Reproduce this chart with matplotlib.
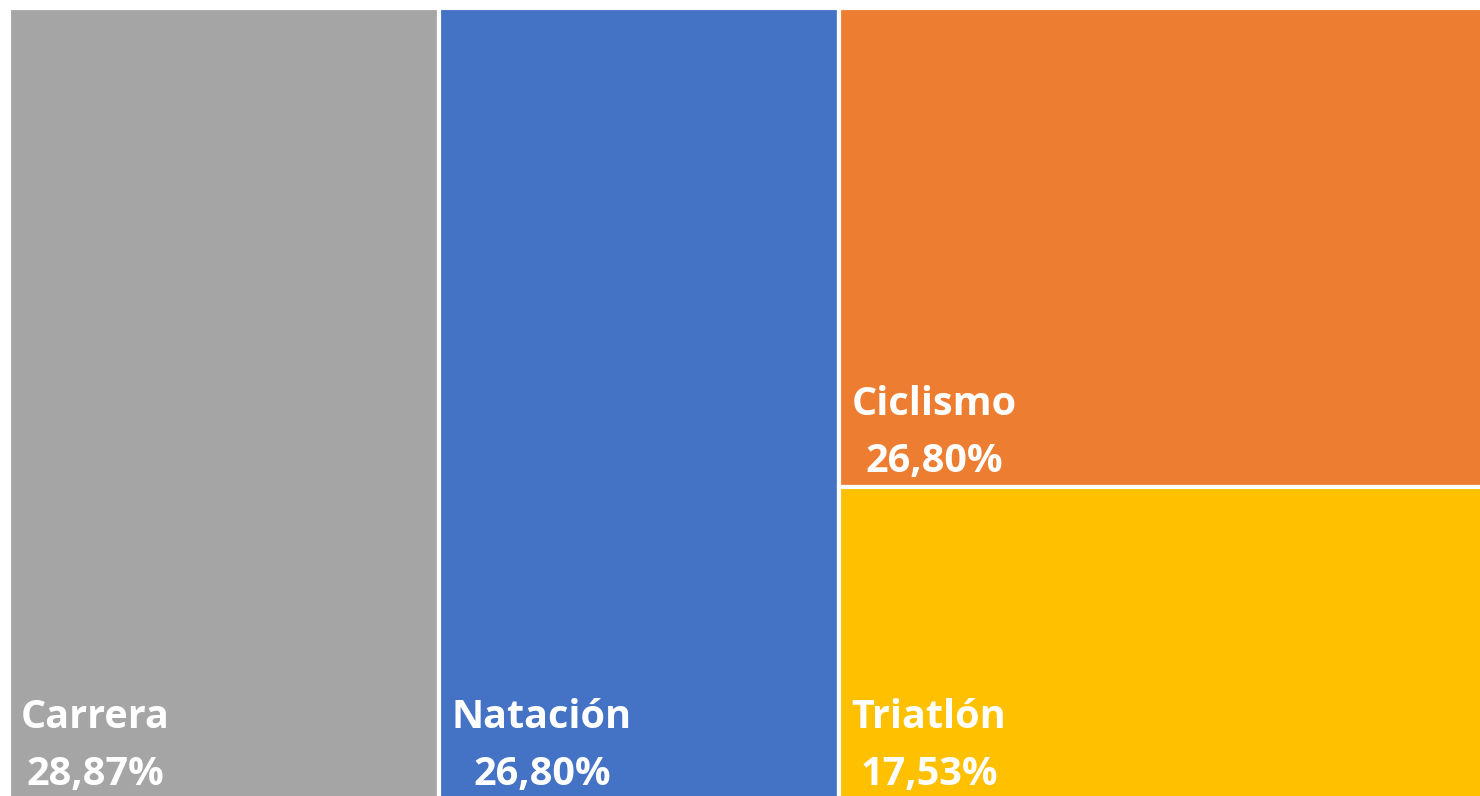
import matplotlib.pyplot as plt
from matplotlib.patches import Rectangle

# datos del treemap (porcentajes)
categorias = ['Carrera', 'Natación', 'Ciclismo', 'Triatlón']
valores = [28.87, 26.80, 26.80, 17.53]
colores = ['#A5A5A5', '#4472C4', '#ED7D31', '#FFC000']

total = sum(valores)

# disposición: dos columnas completas y una columna final partida en dos
rects = []
x0 = 0.0
for v in valores[:2]:
    w = v / total
    rects.append((x0, 0.0, w, 1.0))
    x0 += w
resto = sum(valores[2:])
w = resto / total
y_top = 1.0
for v in valores[2:]:
    h = v / resto
    rects.append((x0, y_top - h, w, h))
    y_top -= h

fig = plt.figure(figsize=(14.8, 7.96), dpi=100)
ax = fig.add_axes([8.5 / 1480, -4 / 796, 1492 / 1480, 792 / 796])
ax.set_xlim(0, 1)
ax.set_ylim(0, 1)
ax.axis('off')

for (x, y, w, h), cat, val, col in zip(rects, categorias, valores, colores):
    ax.add_patch(Rectangle((x, y), w, h, facecolor=col, edgecolor='white', linewidth=3))
    etiqueta = f'{cat}\n{val:.2f}%'.replace('.', ',')
    ax.annotate(etiqueta, xy=(x, y), xytext=(9, 4), textcoords='offset points',
                ha='left', va='bottom', multialignment='center',
                color='white', fontsize=28.5, fontweight='bold',
                family=['Open Sans', 'DejaVu Sans'], linespacing=1.6)

plt.savefig('out.png', dpi=100)
